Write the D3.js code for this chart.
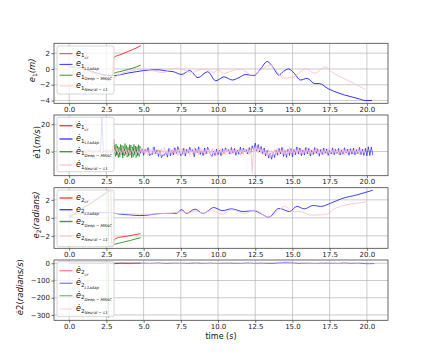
<!DOCTYPE html>
<html><head><meta charset="utf-8">
<script src="https://cdn.jsdelivr.net/npm/d3@7"></script>
<style>body{margin:0;background:#fff}</style>
</head><body><svg id="c" width="432" height="360"></svg>
<script>
// ---------------- DATA ----------------
const xTicks = [0, 2.5, 5, 7.5, 10, 12.5, 15, 17.5, 20];
const legendKeys = ["cr", "L1adap", "Deep − MRAC", "Neural − L1"];
const seriesColors = ["red", "blue", "green", "pink"];

// Panel 1: e1 (m)
const e1RedT = [0,0.5,1,1.5,2,2.5,2.9,3.0,3.5,4.0,4.5,4.8];
const e1RedV = [0.3,0.2,0.0,-0.3,-0.6,-0.8,-0.8,1.45,1.85,2.25,2.65,2.95];
const e1BlueT = [0,0.5,1,1.5,2,2.5,3,3.5,4,4.5,5,5.4,6,6.5,7,7.55,8.1,8.65,9.3,9.85,10.4,10.96,11.4,11.86,12.4,12.9,13.3,13.7,14.08,14.4,14.75,15.1,15.54,15.98,16.5,16.8,17.4,18.1,18.5,19.0,19.5,19.9,20.35];
const e1BlueV = [0.3,0.2,0.0,-0.3,-0.6,-0.8,-0.85,-0.7,-0.5,-0.35,-0.2,-0.13,-0.1,-0.25,-0.35,-0.7,-0.2,-1.1,-0.35,-1.5,-1.0,-1.4,-1.1,-0.7,-0.85,0.1,0.95,0.2,-0.77,-0.3,0,-0.5,-1.4,-1.2,-1.85,-1.85,-2.5,-3.05,-3.3,-3.55,-3.8,-4.0,-4.0];
const e1GreenT = [0,0.5,1,1.5,2,2.5,2.7,3.0,3.5,4.0,4.5,4.8];
const e1GreenV = [0.3,0.2,0.0,-0.4,-0.9,-1.4,-1.5,-0.55,-0.3,-0.05,0.25,0.5];
const e1PinkT = [0,0.5,1,1.5,2,2.5,3,3.5,4,4.5,5,5.6,6.3,6.8,7.3,7.8,8.2,8.6,9.0,9.4,9.7,10.0,10.4,11.0,11.5,12.3,12.9,13.5,14.0,14.4,14.75,15.1,15.5,15.9,16.5,17.2,17.65,18.5,19.2,19.9];
const e1PinkV = [0.3,0.2,-0.1,-0.5,-0.9,-1.4,-1.1,-0.6,-0.3,-0.1,0.0,-0.2,-0.45,-0.1,0.1,-0.2,-0.5,-0.2,0.0,-0.2,-0.45,-0.15,-0.55,-0.2,0.0,-0.77,-0.1,0.5,-0.4,-1.2,-1.1,-1.0,-0.4,0.0,-0.55,0.25,-0.4,-1.25,-1.9,-2.6];
const e1Ticks = [-4, -2, 0, 2];

// Panel 2: e1 dot (m/s)  -- sampled series (start, step, values)
const de1RedT = [0,0.5,1.0,1.5,2.0,2.5,2.9,3.0,3.05,3.2,3.5,4.0,4.5,4.8];
const de1RedV = [0.2,-0.3,0.4,-0.2,0.3,-0.4,0.1,9.0,2.0,-1.0,1.5,-0.8,1.2,0.3];
const de1BlueStart = 0, de1BlueStep = 0.1;
const de1BlueV = [
 0.3,-0.5,0.8,0.1,0.6,-0.9,-0.2,-0.3,1.0,-0.6,
 0.2,-0.8,0.7,0.9,1.1,-0.7,-0.1,-1.0,0.9,-0.3,
 0.6,-0.9,25.0,-0.5,1.2,0.2,0.4,-1.1,0.8,-0.6,
 -1.5,0.8,-2.2,-0.4,-1.8,0.6,-2.5,1.9,-1.2,-1.6,
 -2.1,1.5,-1.6,2.2,-0.9,1.1,-2.4,0.7,-1.3,2.0,
 -2.8,1.6,-0.4,2.9,-3.1,-1.6,-2.2,3.4,-1.5,1.2,
 -3.6,0.9,-4.5,-2.4,-2.7,-0.4,-4.1,2.3,-3.2,1.1,
 -2.5,2.8,-1.4,3.6,0.4,-2.9,-1.8,2.4,-3.3,1.7,
 -1.1,3.1,0.2,1.4,-3.8,2.2,-0.9,3.5,-2.1,0.6,
 -2.9,2.6,-1.7,3.2,1.1,-2.4,-3.5,0.4,-2.8,1.8,
 -2.2,1.0,-3.0,2.1,-1.3,2.7,0.3,1.5,-1.9,3.0,
 -1.2,2.3,-2.7,1.1,-2.0,3.3,-1.5,2.5,-0.2,1.4,
 -1.8,2.9,-0.8,4.2,1.0,6.2,0.5,5.1,-0.4,3.8,
 -1.5,2.6,-3.2,0.9,-4.8,-1.2,-5.6,-0.6,-4.3,1.2,
 -2.7,2.4,-1.8,3.1,-3.6,0.8,-4.2,1.7,-2.9,2.2,
 -3.8,1.5,-2.4,3.4,-1.9,2.6,-3.1,1.2,-2.6,3.0,
 -1.7,2.4,-3.3,1.0,-2.2,2.9,-1.4,2.0,-3.4,1.5,
 -2.1,2.6,-1.3,1.9,-2.8,0.9,-1.8,2.7,-2.3,1.6,
 -1.5,2.3,-2.6,1.2,-2.0,2.8,-1.1,1.9,-2.7,2.1,
 -1.9,2.5,-2.4,1.4,-1.6,3.0,-2.2,1.7,-2.8,2.4,
 -3.2,3.5,-3.0,3.3,-2.6];
const de1GreenStart = 2.5, de1GreenStep = 0.05;
const de1GreenV = [0.3,-0.6,0.9,-0.4,0.7,-0.8,0.5,-0.3,0.8,-0.5,
 0.5,4.8,-3.6,5.5,-2.8,4.1,-4.4,3.2,-3.9,5.2,-2.5,4.6,-4.8,3.7,-3.1,5.9,-2.2,4.3,-4.1,3.0,
 -3.5,5.0,-2.7,4.7,-4.6,3.4,-3.8,5.3,-2.4,4.0,-4.3,3.6,-3.0,4.9,-3.7,4.2,1.0];
const de1PinkStart = 0, de1PinkStep = 0.1;
const de1PinkV = [
 1.2,-1.8,2.1,-1.4,1.6,-2.2,0.9,-1.7,2.4,-1.1,
 1.9,-2.3,1.3,-1.6,2.2,-0.8,1.5,-2.0,1.1,-1.5,
 2.3,-1.2,1.7,-2.4,1.0,-1.9,2.0,-1.3,1.6,-2.1,
 1.4,-1.0,2.5,-1.8,1.2,-2.2,2.8,-1.4,1.9,-2.6,
 1.1,-2.0,2.6,-1.5,1.8,-2.4,1.3,-1.7,2.2,-1.0,
 2.4,-1.6,1.5,-2.7,2.0,-1.2,2.9,-1.9,1.1,-2.3,
 1.7,-2.5,2.2,-1.4,2.7,-1.8,1.3,-2.6,2.1,-1.1,
 2.5,-2.0,1.6,-2.8,1.9,-1.3,2.4,-2.2,1.4,-1.7,
 2.1,-2.6,1.2,-1.9,2.8,-1.5,1.7,-2.3,2.3,-1.0,
 1.8,-2.4,2.6,-1.6,1.3,-2.1,2.2,-1.8,1.5,-2.7,
 2.7,-1.4,1.9,-2.2,1.1,-2.5,2.3,-1.2,1.6,-2.0,
 2.0,-1.7,2.6,-1.3,1.8,-2.6,1.4,-2.1,2.4,-1.5,
 1.5,-2.3,2.8,-15.8,3.2,-1.0,3.6,-0.8,2.9,-1.6,
 2.1,-2.2,1.0,-3.0,1.4,-3.4,0.6,-2.8,1.8,-1.9,
 2.3,-2.7,1.6,-1.8,2.5,-2.3,1.2,-2.0,2.7,-1.4,
 1.9,-2.5,2.2,-1.1,2.6,-2.0,1.5,-2.4,2.1,-1.3,
 2.4,-1.9,1.3,-2.6,2.0,-1.5,2.8,-2.1,1.2,-1.8,
 2.2,-2.4,1.7,-1.2,2.5,-2.2,1.6,-1.9,2.3,-1.4,
 1.4,-2.0,2.1,-1.6,1.8,-2.3,1.3,-1.7,2.0,-1.2,
 1.7,-1.5,2.2,-1.8,1.5,-2.1,1.9,-1.3,1.6,-1.9];
const de1Ticks = [0, 20];

// Panel 3: e2 (radians)
const e2RedT = [0,0.5,1,1.5,2,2.5,2.8,2.85,3.1,4.0,4.8];
const e2RedV = [0.1,0.6,1.2,1.7,2.3,2.8,3.0,-2.85,-2.3,-2.0,-1.75];
const e2BlueT = [0,0.5,1,1.5,2,2.5,3.08,3.5,4.1,4.75,5.4,6.1,6.6,7.2,7.55,7.9,8.45,9.0,9.35,9.7,10.3,10.9,11.7,12.4,12.9,13.4,14.1,14.8,15.3,15.8,16.4,16.9,17.6,18.3,19.4,20.4];
const e2BlueV = [0.3,0.4,0.5,0.55,0.6,0.6,0.5,0.4,0.33,0.25,0.33,0.48,0.5,0.5,0.9,0.5,0.97,0.48,0.8,1.15,0.8,1.0,0.7,0.8,0.45,0.07,1.05,0.7,1.27,1.0,1.38,1.27,1.65,2.13,2.58,3.07];
const e2GreenT = [0,0.5,1,1.5,2,2.5,2.62,2.65,3.0,4.0,4.8];
const e2GreenV = [0.0,0.55,1.1,1.65,2.2,2.8,3.1,-3.1,-2.95,-2.55,-2.2];
const e2PinkT = [0,1,2,3,4,5,6,7,7.6,8.0,8.5,9.0,9.5,9.85,10.3,10.9,11.8,12.45,13.4,14.5,15.0,15.5,16.2,17.3,17.85,20.0];
const e2PinkV = [0.3,0.4,0.5,0.5,0.45,0.4,0.45,0.55,0.7,0.55,0.75,0.5,0.8,0.7,0.4,0.9,0.5,0.85,0.07,1.27,0.7,0.7,0.3,0.4,1.05,1.76];
const e2Ticks = [-2, 0, 2];

// Panel 4: e2 dot (radians/s)
const de2RedT = [0,1,2,2.6,2.85,2.9,3.5,4.8];
const de2RedV = [0,3,-2,5,2,-5,2,1];
const de2BlueStart = 0, de2BlueStep = 0.5;
const de2BlueV = [0,1,-2,1,-1,2,-1,1,-2,0,1,-1,2,-2,1,0,-1,2,-1,1,-2,1,0,-1,2,-1,1,-2,2,4,3,-1,1,-2,1,0,-1,2,-1,1,-3,-2];
const de2GreenT = [0,0.5,1,1.5,2,2.5,2.6,2.63,2.66,2.7,3,3.5,4,4.5,4.8];
const de2GreenV = [0,0.5,-0.3,0.4,-0.2,0.6,1.0,-316,-10,0.5,-0.4,0.3,-0.2,0.4,0.1];
const de2PinkStart = 0, de2PinkStep = 0.5;
const de2PinkV = [2,3,5,6,8,9,7,4,3,2,1,-2,-1,2,1,-1,2,3,1,-2,0,2,3,1,-1,1,2,4,6,9,7,3,1,-1,2,1,-1,1,2,0];
const de2Ticks = [-300, -200, -100, 0];

// ---------------- DRAW ----------------
const svg = d3.select("#c");
const FONT = "DejaVu Sans, sans-serif";
const left = 54, right = 388;
const x = d3.scaleLinear().domain([-1.02, 21.42]).range([left, right]);
const sampled = (start, step, vals) => vals.map((v, i) => [start + i * step, v]);
const paired = (ts, vs) => ts.map((t, i) => [t, vs[i]]);
const fmtY = d => d < 0 ? "\u2212" + Math.abs(d) : String(d);

function mathLabel(sel, base, sub, subsub, size) {
  sel.append("tspan").attr("font-style", "italic").attr("font-size", size).text(base);
  sel.append("tspan").attr("font-size", size * 0.7).attr("dy", size * 0.22).text(sub);
  sel.append("tspan").attr("font-style", "italic").attr("font-size", size * 0.49).attr("dy", size * 0.18).text(subsub);
}

const panels = [
  { top: 43.3, bottom: 103.3, dom: [-4.35, 3.25], ticks: e1Ticks, op: 0.8, curve: d3.curveMonotoneX,
    series: [paired(e1RedT, e1RedV), paired(e1BlueT, e1BlueV), paired(e1GreenT, e1GreenV), paired(e1PinkT, e1PinkV)],
    base: "e", sub: "1", lx: 35, ylab: [["e", true, 8.5], ["1", false, 6, 2], ["(m)", true, 8.5, -2]],
    leg: { y: 46, h: 48, rows: [53.7, 64.4, 75.2, 86] } },
  { top: 115, bottom: 175.7, dom: [-17.7, 26.8], ticks: de1Ticks, op: 0.75, curve: d3.curveLinear, lw: 0.8,
    series: [paired(de1RedT, de1RedV), sampled(de1BlueStart, de1BlueStep, de1BlueV), sampled(de1GreenStart, de1GreenStep, de1GreenV), sampled(de1PinkStart, de1PinkStep, de1PinkV)],
    base: "\u0117", sub: "1", lx: 40, ylab: [["\u0117", true, 8.5], ["1(", false, 8.5], ["m/s", true, 8.5], [")", false, 8.5]],
    leg: { y: 117.3, h: 54.4, rows: [125.7, 139, 151.7, 165] } },
  { top: 187.7, bottom: 248.3, dom: [-3.38, 3.35], ticks: e2Ticks, op: 0.75, curve: d3.curveMonotoneX,
    series: [paired(e2RedT, e2RedV), paired(e2BlueT, e2BlueV), paired(e2GreenT, e2GreenV), paired(e2PinkT, e2PinkV)],
    base: "e", sub: "2", lx: 39, ylab: [["e", true, 8.5], ["2", false, 6, 2], ["(radians)", true, 8.5, -2]],
    leg: { y: 190, h: 56.7, rows: [198, 209.7, 221.5, 236] } },
  { top: 260, bottom: 320.3, dom: [-331, 19], ticks: de2Ticks, op: 0.45, curve: d3.curveLinear,
    series: [paired(de2RedT, de2RedV), sampled(de2BlueStart, de2BlueStep, de2BlueV), paired(de2GreenT, de2GreenV), sampled(de2PinkStart, de2PinkStep, de2PinkV)],
    base: "\u0117", sub: "2", lx: 23, ylab: [["\u0117", true, 8.5], ["2(", false, 8.5], ["radians/s", true, 8.5], [")", false, 8.5]],
    leg: { y: 261.7, h: 55, rows: [270.7, 283.3, 295.7, 309] } }
];

panels.forEach((p, pi) => {
  const y = d3.scaleLinear().domain(p.dom).range([p.bottom, p.top]);
  const g = svg.append("g");
  g.selectAll(".gx").data(xTicks).join("line")
    .attr("x1", d => x(d)).attr("x2", d => x(d)).attr("y1", p.top).attr("y2", p.bottom)
    .attr("stroke", "#b0b0b0").attr("stroke-width", 0.8).attr("opacity", 0.8);
  g.selectAll(".gy").data(p.ticks).join("line")
    .attr("x1", left).attr("x2", right).attr("y1", d => y(d)).attr("y2", d => y(d))
    .attr("stroke", "#b0b0b0").attr("stroke-width", 0.8).attr("opacity", 0.8);
  const cid = "clip" + pi;
  svg.append("clipPath").attr("id", cid).append("rect")
    .attr("x", left).attr("y", p.top).attr("width", right - left).attr("height", p.bottom - p.top);
  const lg = g.append("g").attr("clip-path", `url(#${cid})`);
  const line = d3.line().x(d => x(d[0])).y(d => y(d[1])).curve(p.curve);
  p.series.forEach((s, si) => {
    lg.append("path").attr("d", line(s)).attr("fill", "none")
      .attr("stroke", seriesColors[si]).attr("stroke-width", (p.lw || 1) * (si === 3 && pi === 1 ? 1.3 : 1))
      .attr("stroke-opacity", si === 3 ? Math.min(1, p.op + 0.1) : p.op)
      .attr("stroke-linejoin", "round");
  });
  const ax = g.append("g").attr("transform", `translate(0,${p.bottom})`)
    .call(d3.axisBottom(x).tickValues(xTicks).tickFormat(d3.format(".1f")).tickSize(2.5).tickPadding(1));
  const ay = g.append("g").attr("transform", `translate(${left},0)`)
    .call(d3.axisLeft(y).tickValues(p.ticks).tickFormat(fmtY).tickSize(2.5).tickPadding(1.5));
  [ax, ay].forEach(a => {
    a.select(".domain").remove();
    a.selectAll("line").attr("stroke", "#333").attr("stroke-width", 0.7);
    a.selectAll("text").attr("font-family", FONT).attr("font-size", 7).attr("fill", "#222");
  });
  g.append("rect").attr("x", left).attr("y", p.top).attr("width", right - left).attr("height", p.bottom - p.top)
    .attr("fill", "none").attr("stroke", "#444").attr("stroke-width", 0.8);
  const cy = (p.top + p.bottom) / 2 - 3;
  const yl = g.append("text").attr("transform", `translate(${p.lx},${cy}) rotate(-90)`)
    .attr("text-anchor", "middle").attr("font-family", FONT).attr("fill", "#111");
  p.ylab.forEach(part => {
    const t = yl.append("tspan").attr("font-size", part[2]).text(part[0]);
    if (part[1]) t.attr("font-style", "italic");
    if (part[3]) t.attr("dy", part[3]);
  });
  const L = p.leg;
  g.append("rect").attr("x", 57).attr("y", L.y).attr("width", 57).attr("height", L.h).attr("rx", 2)
    .attr("fill", "#fff").attr("fill-opacity", 0.8).attr("stroke", "#cccccc").attr("stroke-width", 0.8);
  L.rows.forEach((ry, k) => {
    g.append("line").attr("x1", 59.5).attr("x2", 72.5).attr("y1", ry).attr("y2", ry)
      .attr("stroke", seriesColors[k]).attr("stroke-width", pi === 0 ? 1 : 1.4)
      .attr("stroke-opacity", k === 3 ? Math.min(1, p.op + 0.1) : p.op);
    const t = g.append("text").attr("x", 76).attr("y", ry + 2).attr("font-family", FONT).attr("fill", "#111");
    mathLabel(t, p.base, p.sub, legendKeys[k], 8);
  });
});

svg.append("text").attr("x", (left + right) / 2).attr("y", 338.5).attr("text-anchor", "middle")
  .attr("font-family", FONT).attr("font-size", 8).attr("fill", "#111").text("time (s)");
</script></body></html>
